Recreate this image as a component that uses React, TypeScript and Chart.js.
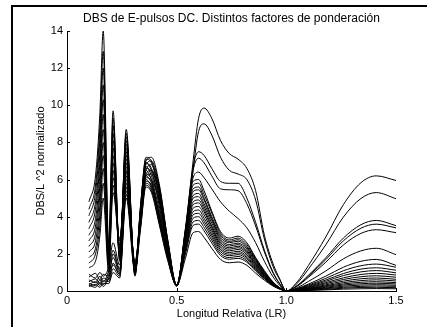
import React, { useEffect, useRef } from "react";
import { Chart, registerables } from "chart.js";
Chart.register(...registerables);

const titleText = "DBS de E-pulsos DC. Distintos factores de ponderación";
const xLabel = "Longitud Relativa (LR)";
const yLabel = "DBS/L ^2 normalizado";

const xTicks = [0, 0.5, 1, 1.5];
const yTicks = [0, 2, 4, 6, 8, 10, 12, 14];

const xGrid = [0.10, 0.13, 0.15, 0.165, 0.19, 0.21, 0.24, 0.27, 0.31, 0.335, 0.36, 0.385, 0.42, 0.46, 0.50,
  0.54, 0.575, 0.60, 0.625, 0.66, 0.70, 0.74, 0.78, 0.82, 0.86, 0.90, 0.94, 0.97, 1.00,
  1.05, 1.10, 1.18, 1.26, 1.34, 1.41, 1.50];

const curve01 = [4.8, 6.2, 9.6, 14.0, 2.6, 9.7, 1.6, 8.7, 0.8, 4.4, 7.2, 7.0, 5.6, 2.6, 0.3,
  3.2, 7.0, 9.3, 9.85, 9.3, 8.1, 7.4, 7.1, 6.6, 5.4, 3.0, 1.45, 0.65, 0,
  0.5, 1.36, 2.91, 4.65, 5.83, 6.2, 5.95];
const curve02 = [4.4, 5.7, 8.8, 12.9, 2.3, 9.3, 2.0, 8.5, 0.9, 4.6, 7.0, 7.2, 5.8, 2.7, 0.32,
  2.9, 6.5, 8.6, 9.0, 8.4, 7.2, 6.5, 6.3, 6.0, 4.9, 2.8, 1.3, 0.6, 0,
  0.42, 1.17, 2.49, 3.98, 4.98, 5.3, 4.97];
const curve03 = [4.05, 5.3, 8.2, 12.0, 2.0, 8.9, 1.8, 8.3, 1.0, 4.2, 6.9, 6.6, 5.2, 2.4, 0.28,
  3.4, 6.7, 7.5, 7.3, 6.6, 5.9, 5.8, 5.8, 5.0, 3.7, 2.2, 1.0, 0.4, 0,
  0.30, 0.84, 1.79, 2.85, 3.57, 3.8, 3.52];
const curve04 = [3.7, 4.8, 7.5, 11.1, 1.8, 8.5, 2.2, 8.1, 0.85, 4.5, 7.1, 6.9, 5.5, 2.6, 0.3,
  3.3, 6.5, 7.15, 6.9, 6.2, 5.5, 5.45, 5.4, 4.7, 3.5, 2.1, 0.95, 0.38, 0,
  0.29, 0.79, 1.69, 2.70, 3.38, 3.6, 3.4];
const curve05 = [3.35, 4.4, 6.9, 10.3, 2.2, 8.1, 1.7, 7.9, 1.1, 4.3, 6.8, 7.0, 5.7, 2.7, 0.33,
  3.2, 6.1, 6.4, 6.1, 5.5, 4.8, 4.3, 3.9, 3.4, 2.6, 1.6, 0.75, 0.3, 0,
  0.26, 0.73, 1.55, 2.48, 3.10, 3.3, 3.14];
const curve06 = [3.0, 3.9, 6.3, 9.5, 1.6, 7.7, 2.4, 7.7, 0.95, 4.1, 6.6, 6.4, 5.0, 2.3, 0.27,
  3.3, 5.9, 6.0, 5.4, 4.3, 3.2, 2.85, 2.95, 2.6, 1.8, 1.1, 0.48, 0.18, 0,
  0.18, 0.51, 1.08, 1.73, 2.16, 2.3, 1.96];
const curve07 = [2.7, 3.5, 5.7, 8.7, 1.9, 7.3, 1.9, 7.5, 1.2, 4.4, 6.9, 6.5, 5.4, 2.5, 0.3,
  3.2, 5.7, 5.8, 5.2, 4.2, 3.1, 2.75, 2.85, 2.5, 1.75, 1.05, 0.46, 0.17, 0,
  0.14, 0.37, 0.80, 1.28, 1.60, 1.7, 1.38];
const curve08 = [2.4, 3.1, 5.2, 8.0, 1.4, 6.9, 2.5, 7.3, 1.0, 4.0, 6.5, 6.8, 5.1, 2.4, 0.31,
  3.1, 5.5, 5.6, 5.0, 4.0, 3.0, 2.67, 2.76, 2.4, 1.7, 1.0, 0.45, 0.17, 0,
  0.12, 0.32, 0.68, 1.09, 1.36, 1.45, 1.28];
const curve09 = [2.1, 2.7, 4.6, 7.3, 1.7, 6.5, 2.1, 7.1, 1.3, 4.3, 6.7, 6.2, 4.8, 2.2, 0.28,
  3.0, 5.35, 5.45, 4.9, 3.9, 2.9, 2.6, 2.68, 2.34, 1.65, 0.98, 0.44, 0.16, 0,
  0.10, 0.28, 0.59, 0.94, 1.18, 1.25, 1.12];
const curve10 = [1.8, 2.3, 4.1, 6.6, 1.2, 6.1, 2.7, 6.9, 1.1, 3.9, 6.3, 6.5, 5.3, 2.4, 0.3,
  2.9, 5.15, 5.25, 4.7, 3.8, 2.8, 2.5, 2.58, 2.26, 1.58, 0.95, 0.42, 0.16, 0,
  0.09, 0.24, 0.52, 0.83, 1.03, 1.1, 0.98];
const curve11 = [1.5, 2.0, 3.5, 5.8, 1.5, 5.7, 2.3, 6.7, 1.4, 4.1, 6.5, 6.0, 4.9, 2.2, 0.29,
  2.8, 5.0, 5.08, 4.55, 3.65, 2.7, 2.42, 2.5, 2.18, 1.52, 0.91, 0.41, 0.15, 0,
  0.08, 0.21, 0.45, 0.71, 0.89, 0.95, 0.86];
const curve12 = [1.25, 1.6, 3.0, 5.0, 1.0, 5.3, 2.8, 6.5, 1.2, 3.8, 6.2, 6.3, 4.6, 2.1, 0.3,
  2.7, 4.8, 4.9, 4.4, 3.5, 2.6, 2.33, 2.41, 2.1, 1.47, 0.88, 0.39, 0.15, 0,
  0.07, 0.18, 0.39, 0.62, 0.77, 0.82, 0.74];
const curve13 = [0.9, 0.7, 1.0, 0.8, 1.3, 2.6, 1.4, 6.4, 1.5, 4.0, 6.3, 6.0, 4.4, 2.0, 0.3,
  2.6, 4.65, 4.74, 4.27, 3.41, 2.51, 2.25, 2.33, 2.04, 1.42, 0.85, 0.38, 0.14, 0,
  0.06, 0.15, 0.33, 0.53, 0.66, 0.70, 0.63];
const curve14 = [0.75, 0.95, 0.6, 0.9, 0.8, 2.0, 1.1, 6.2, 1.3, 3.8, 6.1, 5.9, 4.0, 1.9, 0.29,
  2.5, 4.46, 4.55, 4.1, 3.28, 2.41, 2.16, 2.24, 1.96, 1.37, 0.82, 0.36, 0.14, 0,
  0.05, 0.13, 0.28, 0.45, 0.56, 0.60, 0.54];
const curve15 = [0.6, 0.45, 0.8, 0.5, 1.1, 2.2, 1.2, 6.0, 1.6, 3.9, 6.2, 5.8, 4.2, 1.9, 0.31,
  2.4, 4.27, 4.36, 3.92, 3.14, 2.31, 2.07, 2.14, 1.87, 1.31, 0.78, 0.35, 0.13, 0,
  0.04, 0.11, 0.24, 0.38, 0.47, 0.50, 0.45];
const curve16 = [0.5, 0.65, 0.4, 0.7, 0.6, 1.5, 0.9, 5.8, 1.2, 3.6, 5.9, 5.7, 3.8, 1.8, 0.3,
  2.3, 4.1, 4.18, 3.76, 3.01, 2.22, 1.98, 2.05, 1.8, 1.25, 0.75, 0.33, 0.13, 0,
  0.03, 0.09, 0.20, 0.32, 0.39, 0.42, 0.38];
const curve17 = [0.4, 0.3, 0.6, 0.35, 0.9, 1.8, 1.0, 5.6, 1.4, 3.7, 6.0, 5.6, 4.1, 1.8, 0.28,
  2.2, 3.92, 4.0, 3.6, 2.88, 2.12, 1.9, 1.96, 1.72, 1.2, 0.72, 0.32, 0.12, 0,
  0.03, 0.07, 0.16, 0.26, 0.32, 0.34, 0.31];
const curve18 = [0.35, 0.5, 0.3, 0.55, 0.5, 1.2, 0.8, 5.4, 1.1, 3.5, 5.8, 5.5, 3.7, 1.7, 0.3,
  2.1, 3.72, 3.8, 3.42, 2.74, 2.01, 1.8, 1.86, 1.63, 1.14, 0.68, 0.3, 0.11, 0,
  0.02, 0.06, 0.13, 0.20, 0.25, 0.27, 0.25];
const curve19 = [0.3, 0.2, 0.45, 0.25, 0.7, 1.4, 0.9, 5.2, 1.3, 3.4, 5.7, 5.4, 3.9, 1.7, 0.29,
  2.0, 3.53, 3.6, 3.24, 2.59, 1.91, 1.71, 1.76, 1.55, 1.08, 0.65, 0.29, 0.11, 0,
  0.02, 0.04, 0.09, 0.15, 0.19, 0.20, 0.18];
const curve20 = [0.25, 0.35, 0.2, 0.4, 0.4, 1.0, 0.7, 5.0, 1.0, 3.3, 5.6, 5.3, 3.6, 1.6, 0.3,
  1.76, 3.14, 3.2, 2.88, 2.3, 1.7, 1.52, 1.56, 1.38, 0.96, 0.58, 0.26, 0.1, 0,
  0.01, 0.03, 0.06, 0.10, 0.12, 0.13, 0.12];

const seriesList = [curve01, curve02, curve03, curve04, curve05, curve06, curve07, curve08, curve09, curve10,
  curve11, curve12, curve13, curve14, curve15, curve16, curve17, curve18, curve19, curve20];

const FONT = "'Liberation Sans', Arial, Helvetica, sans-serif";

const inwardTicks = {
  id: "inwardTicks",
  afterDraw(chart: any) {
    const { ctx, chartArea, scales } = chart;
    ctx.save();
    ctx.strokeStyle = "#000";
    ctx.lineWidth = 1;
    ctx.beginPath();
    for (const v of xTicks) {
      const px = Math.round(scales.x.getPixelForValue(v)) + 0.5;
      ctx.moveTo(px, chartArea.bottom);
      ctx.lineTo(px, chartArea.bottom - 3);
    }
    for (const v of yTicks) {
      const py = Math.round(scales.y.getPixelForValue(v)) + 0.5;
      ctx.moveTo(chartArea.left, py);
      ctx.lineTo(chartArea.left + 3, py);
    }
    ctx.stroke();
    ctx.restore();
  },
};

export default function App() {
  const ref = useRef<HTMLCanvasElement | null>(null);
  useEffect(() => {
    if (!ref.current) return;
    const datasets = seriesList.map((vals, i) => ({
      label: "c" + (i + 1),
      data: xGrid.map((x, k) => ({ x, y: vals[k] })),
      borderColor: "#000",
      borderWidth: 1,
      pointRadius: 0,
      fill: false,
      cubicInterpolationMode: "monotone" as const,
    }));
    const chart = new Chart(ref.current, {
      type: "line",
      data: { datasets },
      options: {
        animation: false,
        responsive: false,
        layout: { padding: { left: 0, right: 31, top: 5, bottom: 0 } },
        plugins: {
          legend: { display: false },
          tooltip: { enabled: false },
          title: {
            display: true,
            text: titleText,
            fullSize: false,
            color: "#000",
            font: { family: FONT, size: 12, weight: "normal" },
            padding: { top: 6, bottom: 5.6 },
          },
        },
        scales: {
          x: {
            type: "linear",
            min: 0,
            max: 1.5,
            afterFit: (s: any) => { s.height = 36; },
            afterBuildTicks: (s: any) => { s.ticks = xTicks.map((v) => ({ value: v })); },
            ticks: { color: "#000", padding: 3, font: { family: FONT, size: 11 }, maxRotation: 0 },
            grid: { drawOnChartArea: false, drawTicks: false },
            border: { display: true, color: "#000", width: 1 },
            title: { display: true, text: xLabel, color: "#000", font: { family: FONT, size: 11 }, padding: { top: 0, bottom: 6.3 } },
          },
          y: {
            type: "linear",
            min: 0,
            max: 14,
            afterFit: (s: any) => { s.width = 67; },
            afterBuildTicks: (s: any) => { s.ticks = yTicks.map((v) => ({ value: v })); },
            ticks: { color: "#000", padding: 4, font: { family: FONT, size: 11 } },
            grid: { drawOnChartArea: false, drawTicks: false },
            border: { display: true, color: "#000", width: 1 },
            title: { display: true, text: yLabel, color: "#000", font: { family: FONT, size: 11 }, padding: { top: 34, bottom: 0 } },
          },
        },
      },
      plugins: [inwardTicks],
    });
    return () => chart.destroy();
  }, []);

  return (
    <div style={{ position: "fixed", left: 0, top: 0, width: 427, height: 327, overflow: "hidden", background: "#fff" }}>
      <canvas ref={ref} width={427} height={327} style={{ display: "block", width: 427, height: 327 }} />
      <div style={{ position: "absolute", left: 11, top: 5, width: 600, height: 600, borderLeft: "2px solid #000", borderTop: "2px solid #000", pointerEvents: "none" }} />
    </div>
  );
}
